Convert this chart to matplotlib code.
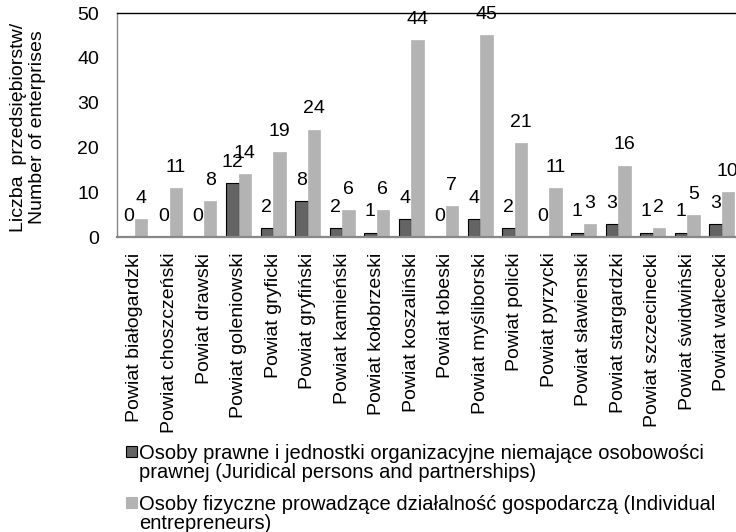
import matplotlib
matplotlib.use("Agg")
import matplotlib.pyplot as plt
from matplotlib.patches import Rectangle
import numpy as np

plt.rcParams["font.family"] = ["Liberation Sans", "DejaVu Sans"]

categories = [
    "Powiat białogardzki", "Powiat choszczeński", "Powiat drawski",
    "Powiat goleniowski", "Powiat gryficki", "Powiat gryfiński",
    "Powiat kamieński", "Powiat kołobrzeski", "Powiat koszaliński",
    "Powiat łobeski", "Powiat myśliborski", "Powiat policki",
    "Powiat pyrzycki", "Powiat sławienski", "Powiat stargardzki",
    "Powiat szczecinecki", "Powiat świdwiński", "Powiat wałcecki",
]
juridical = [0, 0, 0, 12, 2, 8, 2, 1, 4, 0, 4, 2, 0, 1, 3, 1, 1, 3]
individual = [4, 11, 8, 14, 19, 24, 6, 6, 44, 7, 45, 21, 11, 3, 16, 2, 5, 10]
yticks = [0, 10, 20, 30, 40, 50]

label_juridical = ("Osoby prawne i jednostki organizacyjne niemające osobowości\n"
                   "prawnej (Juridical persons and partnerships)")
label_individual = ("Osoby fizyczne prowadzące działalność gospodarczą (Individual\n"
                    "entrepreneurs)")

DARK = "#646464"
LIGHT = "#b3b3b3"
W, H = 736, 532
FS = 14

fig = plt.figure(figsize=(W / 100, H / 100), dpi=100)
# axes run a little past the right edge, like the cropped original
ax = fig.add_axes([117.3 / W, (H - 237.3) / H, 621.5 / W, 224.3 / H])

x = np.arange(len(categories))
w = 0.362
ax.bar(x - w / 2, juridical, w, color=DARK, edgecolor="black", linewidth=0.8)
ax.bar(x + w / 2, individual, w, color=LIGHT, edgecolor=LIGHT, linewidth=0.5)

for xi, v in zip(x - w / 2, juridical):
    ax.annotate(str(v), (xi, v), xytext=(0, 15), textcoords="offset points",
                ha="center", va="center", fontsize=FS, clip_on=False)
for xi, v in zip(x + w / 2, individual):
    ax.annotate(str(v), (xi, v), xytext=(0, 15), textcoords="offset points",
                ha="center", va="center", fontsize=FS, clip_on=False)

ax.set_xlim(-0.513, len(categories) - 0.5)
ax.set_ylim(0, 50)
ax.set_yticks(yticks)
ax.set_xticks(x)
ax.set_xticklabels(categories, rotation=90, fontsize=FS)
ax.tick_params(axis="both", length=0, labelsize=FS)
ax.tick_params(axis="y", pad=13)
ax.tick_params(axis="x", pad=11)

ax.spines["top"].set_color("black")
ax.spines["top"].set_linewidth(1.0)
ax.spines["left"].set_color("#888888")
ax.spines["left"].set_linewidth(1.0)
ax.spines["bottom"].set_color("#888888")
ax.spines["bottom"].set_linewidth(1.6)
ax.spines["right"].set_visible(False)

fig.text(28 / W, 1 - 127 / H, "Liczba  przedsiębiorstw/\nNumber of enterprises",
         rotation=90, ha="center", va="center", fontsize=FS, linespacing=1.15)

# legend, drawn by hand so the swatch sits on the first line of wrapped text
for top, col, ec, lab in [(446, DARK, "black", label_juridical),
                          (497, LIGHT, LIGHT, label_individual)]:
    fig.patches.append(Rectangle((126 / W, 1 - (top + 11) / H), 11 / W, 11 / H,
                                 transform=fig.transFigure, facecolor=col,
                                 edgecolor=ec, linewidth=0.8))
    fig.text(139 / W, 1 - (top - 2) / H, lab, ha="left", va="top",
             fontsize=14.5, linespacing=0.98)

fig.savefig("out.png", dpi=100)
